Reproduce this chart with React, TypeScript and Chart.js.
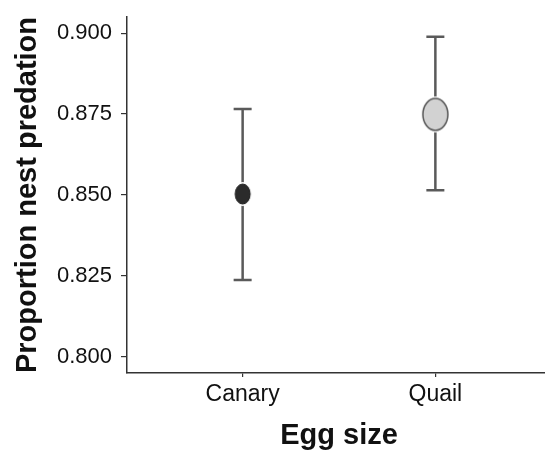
import React, { useEffect, useRef } from "react";
import { Chart, registerables } from "chart.js";

Chart.register(...registerables);

const categories = ["Canary", "Quail"];
const means = [0.8503, 0.8749];
const lowers = [0.8237, 0.8515];
const uppers = [0.8766, 0.8989];
const yTicks = [0.8, 0.825, 0.85, 0.875, 0.9];
const pointFills = ["#2b2b2b", "#d2d2d2"];
const pointStrokes = ["#1e1e1e", "#555555"];
const pointSizes = [
  [15, 20],
  [25, 32],
];

function makeEllipse(w: number, h: number, fill: string, stroke: string, lw: number) {
  const halo = 2;
  const c = document.createElement("canvas");
  c.width = w + halo * 2 + 2;
  c.height = h + halo * 2 + 2;
  const ctx = c.getContext("2d")!;
  const cx = c.width / 2;
  const cy = c.height / 2;
  ctx.beginPath();
  ctx.ellipse(cx, cy, w / 2 + halo, h / 2 + halo, 0, 0, Math.PI * 2);
  ctx.fillStyle = "#ffffff";
  ctx.fill();
  ctx.beginPath();
  ctx.ellipse(cx, cy, w / 2, h / 2, 0, 0, Math.PI * 2);
  ctx.fillStyle = fill;
  ctx.fill();
  ctx.lineWidth = lw;
  ctx.strokeStyle = stroke;
  ctx.stroke();
  return c;
}

const errorBarPlugin = {
  id: "errorBars",
  beforeDatasetsDraw(chart: any) {
    const { ctx, scales } = chart;
    const xs = scales.x;
    const ys = scales.y;
    ctx.save();
    ctx.strokeStyle = "#5a5a5a";
    ctx.lineWidth = 2.5;
    ctx.lineCap = "butt";
    for (let i = 0; i < categories.length; i++) {
      const x = xs.getPixelForValue(i + 1);
      const yl = ys.getPixelForValue(lowers[i]);
      const yu = ys.getPixelForValue(uppers[i]);
      const cap = 9;
      ctx.beginPath();
      ctx.moveTo(x, yl);
      ctx.lineTo(x, yu);
      ctx.moveTo(x - cap, yu);
      ctx.lineTo(x + cap, yu);
      ctx.moveTo(x - cap, yl);
      ctx.lineTo(x + cap, yl);
      ctx.stroke();
    }
    ctx.restore();
  },
};

export default function App() {
  const ref = useRef<HTMLCanvasElement>(null);
  useEffect(() => {
    if (!ref.current) return;
    const styles = categories.map((_, i) =>
      makeEllipse(pointSizes[i][0], pointSizes[i][1], pointFills[i], pointStrokes[i], i === 0 ? 1 : 1.5)
    );
    const font = "'Liberation Sans', Arial, Helvetica, sans-serif";
    const chart = new Chart(ref.current, {
      type: "scatter",
      data: {
        datasets: [
          {
            data: categories.map((_, i) => ({ x: i + 1, y: means[i] })),
            pointStyle: styles as any,
            pointRadius: 10,
            backgroundColor: pointFills,
            borderColor: pointStrokes,
          },
        ],
      },
      options: {
        responsive: false,
        animation: false,
        events: [],
        layout: { padding: { top: 17, right: 1, left: 0, bottom: 0 } },
        plugins: {
          legend: { display: false },
          tooltip: { enabled: false },
        },
        scales: {
          x: {
            type: "linear",
            min: 0.4,
            max: 2.6,
            afterFit: (s: any) => {
              s.height = 82;
              s.paddingLeft = 0;
              s.paddingRight = 0;
            },
            afterBuildTicks: (s: any) => {
              s.ticks = categories.map((_, i) => ({ value: i + 1 }));
            },
            ticks: {
              color: "#111",
              font: { family: font, size: 23 },
              padding: 4,
              maxRotation: 0,
              autoSkip: false,
              callback: (v: any) => categories[Math.round(Number(v)) - 1] ?? "",
            },
            grid: {
              drawOnChartArea: false,
              drawTicks: true,
              tickLength: 4,
              color: "#333",
              lineWidth: 1.2,
            },
            border: { display: true, color: "#333", width: 1.5 },
            title: {
              display: true,
              text: "Egg size",
              color: "#111",
              font: { family: font, size: 29, weight: "bold" },
              padding: { top: 0, bottom: 2 },
            },
          },
          y: {
            type: "linear",
            min: 0.795,
            max: 0.905,
            afterFit: (s: any) => {
              s.width = 127;
              s.paddingTop = 0;
              s.paddingBottom = 0;
            },
            afterBuildTicks: (s: any) => {
              s.ticks = yTicks.map((v) => ({ value: v }));
            },
            ticks: {
              color: "#111",
              font: { family: font, size: 22 },
              padding: 9,
              callback: (v: any) => Number(v).toFixed(3),
            },
            grid: {
              drawOnChartArea: false,
              drawTicks: true,
              tickLength: 6,
              color: "#333",
              lineWidth: 1.2,
            },
            border: { display: true, color: "#333", width: 1.5 },
            title: {
              display: true,
              text: "Proportion nest predation",
              color: "#111",
              font: { family: font, size: 29, weight: "bold" },
              padding: { top: 11, bottom: 0 },
            },
          },
        },
      },
      plugins: [errorBarPlugin],
    });
    return () => chart.destroy();
  }, []);

  return (
    <div
      style={{
        position: "fixed",
        left: 0,
        top: 0,
        width: 545,
        height: 455,
        overflow: "hidden",
        background: "#fff",
      }}
    >
      <canvas ref={ref} width={562} height={455} style={{ display: "block" }} />
    </div>
  );
}
